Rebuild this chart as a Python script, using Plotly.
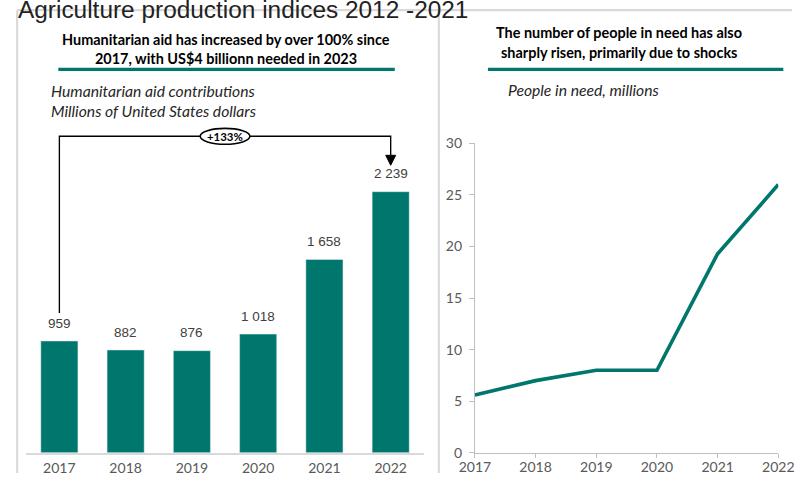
import plotly.graph_objects as go

# ---------------- data ----------------
years = [2017, 2018, 2019, 2020, 2021, 2022]
aid_contrib = [959, 882, 876, 1018, 1658, 2239]
aid_labels = ["959", "882", "876", "1 018", "1 658", "2 239"]
people_years = [2017, 2018, 2019, 2020, 2021, 2022]
people_in_need = [5.6, 7.0, 8.0, 8.0, 19.3, 26.0]
y2_ticks = [0, 5, 10, 15, 20, 25, 30]

TEAL = "#00776C"
W, H = 808, 481
SX, BX = 0.959, 8.1   # observed figure -> photo mapping (horizontal)
SY, BY = 0.966, 0.8   # observed figure -> photo mapping (vertical)
M = 8


def px(t):
    return max(0.0, min(1.0, ((t - BX) / SX - M) / W))


def py(t):
    return max(0.0, min(1.0, 1 - ((t - BY) / SY - M) / H))


def fs(v):
    return v / 0.962


fig = go.Figure()

fig.add_trace(go.Bar(
    x=years, y=aid_contrib, marker_color=TEAL, width=0.56,
    xaxis="x", yaxis="y", showlegend=False,
))

fig.add_trace(go.Scatter(
    x=people_years, y=people_in_need, mode="lines",
    line=dict(color=TEAL, width=fs(3.5)),
    xaxis="x2", yaxis="y2", showlegend=False, cliponaxis=False,
))

tickfont = dict(family="Lato", size=fs(13.5), color="#595959")

fig.update_layout(
    width=W, height=H,
    margin=dict(l=0, r=0, t=0, b=0),
    paper_bgcolor="white", plot_bgcolor="white",
    xaxis=dict(domain=[px(26), px(423)], range=[2016.5, 2022.5],
               tickvals=years, ticktext=[str(y) for y in years],
               showline=True, linecolor="#d9d9d9", linewidth=fs(2),
               showgrid=False, zeroline=False, ticks="outside", ticklen=4,
               tickcolor="rgba(0,0,0,0)", tickfont=tickfont,
               ticklabelstandoff=-3, ticklabeloverflow="allow"),
    yaxis=dict(domain=[py(453), py(120)], range=[0, 2851],
               visible=False, showgrid=False),
    xaxis2=dict(domain=[px(474), px(777)], range=[2017, 2022],
                tickvals=people_years, ticktext=[str(y) for y in people_years],
                showline=True, linecolor="#bfbfbf", linewidth=1,
                showgrid=False, zeroline=False, ticks="outside", ticklen=4,
                tickcolor="#bfbfbf", tickfont=tickfont, anchor="y2",
                ticklabelstandoff=-3, ticklabeloverflow="allow"),
    yaxis2=dict(domain=[py(453), py(143)], range=[0, 30],
                tickvals=y2_ticks,
                showline=True, linecolor="#bfbfbf", linewidth=1,
                showgrid=False, zeroline=False, ticks="outside", ticklen=5,
                tickcolor="#bfbfbf", tickfont=tickfont, anchor="x2",
                ticklabelstandoff=4),
)

shapes = []
grey = "#d9d9d9"
left_x = max(px(12), 1.2 / W)
top_y = min(py(9), 1 - 1.2 / H)
shapes.append(dict(type="line", xref="paper", yref="paper", x0=left_x, x1=1, y0=top_y, y1=top_y, line=dict(color=grey, width=fs(2))))
shapes.append(dict(type="line", xref="paper", yref="paper", x0=left_x, x1=left_x, y0=top_y, y1=0, line=dict(color=grey, width=fs(2))))
shapes.append(dict(type="line", xref="paper", yref="paper", x0=px(438), x1=px(438), y0=top_y, y1=0, line=dict(color=grey, width=fs(2))))
shapes.append(dict(type="line", xref="paper", yref="paper", x0=px(58), x1=px(394), y0=py(69), y1=py(69), line=dict(color=TEAL, width=fs(3))))
shapes.append(dict(type="line", xref="paper", yref="paper", x0=px(487), x1=px(782), y0=py(69), y1=py(69), line=dict(color=TEAL, width=fs(3))))

# growth bracket
first, last = years[0], years[-1]
bracket_y = 2714
start_y = 1199
tip_y = 2466
head_y = 2551
shapes.append(dict(type="path", xref="x", yref="y",
                   path=f"M {first} {start_y} L {first} {bracket_y} L {last} {bracket_y} L {last} {head_y}",
                   line=dict(color="black", width=fs(1.3))))
hw = 0.075
shapes.append(dict(type="path", xref="x", yref="y",
                   path=f"M {last-hw} {head_y} L {last+hw} {head_y} L {last} {tip_y} Z",
                   fillcolor="black", line=dict(color="black", width=1)))
mid = (first + last) / 2
shapes.append(dict(type="circle", xref="x", yref="y",
                   x0=mid - 0.375, x1=mid + 0.375, y0=bracket_y - 68, y1=bracket_y + 68,
                   fillcolor="white", line=dict(color="black", width=fs(1.5))))
fig.update_layout(shapes=shapes)

growth = round((aid_contrib[-1] / aid_contrib[0] - 1) * 100)


def txt(text, x, y, size, family="Lato", color="black", xanchor="center"):
    return dict(text=text, xref="paper", yref="paper", x=px(x), y=py(y),
                xanchor=xanchor, yanchor="middle", showarrow=False,
                font=dict(family=family, size=fs(size), color=color))


ann = []
ann.append(txt("Agriculture production indices 2012 -2021", 16, 2, 23.5,
               family="Liberation Sans, Arial", color="#222222", xanchor="left"))
ann.append(txt("<b>Humanitarian aid has increased by over 100% since</b>", 225, 39.5, 13.9))
ann.append(txt("<b>2017, with US$4 billionn needed in 2023</b>", 225, 58.5, 13.9))
ann.append(txt("<i>Humanitarian aid contributions</i>", 49, 90.5, 15.1, color="#262626", xanchor="left"))
ann.append(txt("<i>Millions of United States dollars</i>", 49, 110.5, 15.1, color="#262626", xanchor="left"))
ann.append(txt("<b>The number of people in need has also</b>", 618, 32.5, 13.9))
ann.append(txt("<b>sharply risen, primarily due to shocks</b>", 618, 52, 13.9))
ann.append(txt("<i>People in need, millions</i>", 505, 89.5, 15.1, color="#262626", xanchor="left"))
ann.append(dict(text=f"<b>+{growth}%</b>", xref="x", yref="y", x=mid, y=bracket_y,
                xanchor="center", yanchor="middle", showarrow=False,
                font=dict(family="Lato", size=fs(11), color="black")))
for yr, v, lab in zip(years, aid_contrib, aid_labels):
    ann.append(dict(text=lab, xref="x", yref="y", x=yr, y=v, xanchor="center",
                    yanchor="bottom", yshift=fs(8), showarrow=False,
                    font=dict(family="Liberation Sans, Arial", size=fs(13), color="#404040")))
fig.update_layout(annotations=ann)

fig.write_html("out.html")
